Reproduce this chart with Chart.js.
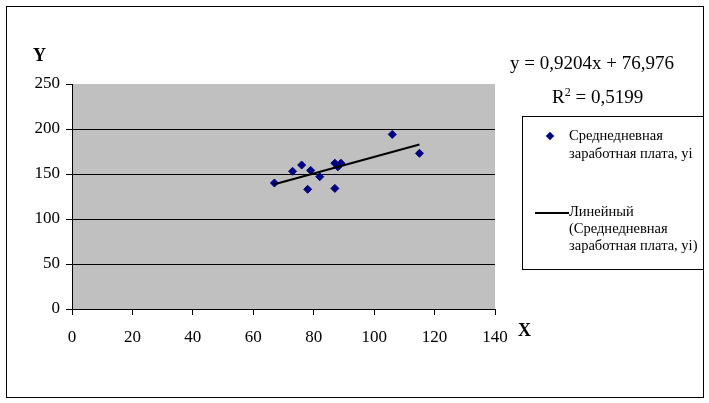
<!DOCTYPE html>
<html>

<head>
    <meta charset="utf-8">
    <title>Y от X</title>
    <style>
        body { margin: 0; background: #fff; }
        #wrap { position: relative; width: 709px; height: 403px; font-family: "Liberation Serif", "Times New Roman", serif; }
        #frame { position: absolute; left: 6px; top: 6px; width: 696px; height: 390px; border: 1px solid #000; pointer-events: none; }
        .lbl { position: absolute; color: #000; white-space: nowrap; }
        #legend { position: absolute; left: 522px; top: 116px; width: 180px; height: 152px; border: 1px solid #000; border-right: none; font-size: 14.5px; line-height: 18px; }
        .mark { position: absolute; width: 6px; height: 6px; background: #000080; transform: rotate(45deg); }
        .lline { position: absolute; height: 2px; background: #000; }
    </style>
</head>

<body>
    <div id="wrap">
        <canvas id="myChart" width="709" height="403"></canvas>
        <div id="frame"></div>
        <div class="lbl" style="left:33px;top:45px;font-size:18px;font-weight:bold;">Y</div>
        <div class="lbl" style="left:518px;top:320px;font-size:18px;font-weight:bold;">X</div>
        <div class="lbl" style="left:510px;top:52px;font-size:19px;">y = 0,9204x + 76,976</div>
        <div class="lbl" style="left:552px;top:86px;font-size:19px;">R<sup style="font-size:12px;vertical-align:7px;line-height:0">2</sup> = 0,5199</div>
        <div id="legend">
            <div class="mark" style="left:24px;top:16px;"></div>
            <div class="lbl" style="left:46px;top:9px;">Среднедневная<br>заработная плата, yi</div>
            <div class="lline" style="left:12px;top:95px;width:34px;"></div>
            <div class="lbl" style="left:46px;top:86px;line-height:17px;">Линейный<br>(Среднедневная<br>заработная плата, yi)</div>
        </div>
    </div>

    <script src="https://cdn.jsdelivr.net/npm/chart.js"></script>

    <script>
        // Среднедневная заработная плата, yi
        const xValues = [67, 73, 76, 78, 79, 82, 87, 87, 88, 89, 106, 115];
        const yValues = [140, 153, 160, 133, 154, 147, 162, 134, 158, 162, 194, 173];

        // Линейный тренд, end points as drawn
        const trendX = [67, 115];
        const trendY = [138.6, 182.8];

        const xTicks = [0, 20, 40, 60, 80, 100, 120, 140];
        const yTicks = [0, 50, 100, 150, 200, 250];

        const points = xValues.map((x, i) => ({ x: x, y: yValues[i] }));
        const trend = trendX.map((x, i) => ({ x: x, y: trendY[i] }));

        const plotBackground = {
            id: 'plotBackground',
            beforeDraw(chart) {
                const a = chart.chartArea;
                const ctx = chart.ctx;
                ctx.save();
                ctx.fillStyle = '#c0c0c0';
                ctx.fillRect(a.left, a.top, a.right - a.left, a.bottom - a.top);
                ctx.restore();
            }
        };

        const tickFont = { family: '"Liberation Serif", "Times New Roman", serif', size: 17 };

        const config = {
            type: 'scatter',
            data: {
                datasets: [
                    {
                        label: 'Среднедневная заработная плата, yi',
                        data: points,
                        pointStyle: 'rectRot',
                        pointRadius: 4,
                        backgroundColor: '#000080',
                        borderColor: '#000080',
                        borderWidth: 1,
                        order: 2
                    },
                    {
                        type: 'line',
                        label: 'Линейный (Среднедневная заработная плата, yi)',
                        data: trend,
                        borderColor: '#000',
                        borderWidth: 2,
                        pointRadius: 0,
                        fill: false,
                        order: 1
                    }
                ]
            },
            options: {
                responsive: false,
                animation: false,
                layout: { padding: { left: 0, top: 84, right: 214, bottom: 44 } },
                plugins: {
                    legend: { display: false },
                    tooltip: { enabled: false }
                },
                scales: {
                    x: {
                        type: 'linear',
                        min: 0,
                        max: 140,
                        afterBuildTicks: (s) => { s.ticks = xTicks.map(v => ({ value: v })); },
                        afterFit: (s) => { s.height = 50; },
                        border: { color: '#000', width: 1 },
                        grid: { drawOnChartArea: false, tickColor: '#000', tickLength: 6 },
                        ticks: { color: '#000', font: tickFont, padding: 12, maxRotation: 0 }
                    },
                    y: {
                        type: 'linear',
                        min: 0,
                        max: 250,
                        afterBuildTicks: (s) => { s.ticks = yTicks.map(v => ({ value: v })); },
                        afterFit: (s) => { s.width = 72; },
                        border: { color: '#000', width: 1 },
                        grid: {
                            color: (c) => (c.tick && c.tick.value === 250 ? 'rgba(0,0,0,0)' : '#000'),
                            tickColor: '#000',
                            tickLength: 6
                        },
                        ticks: { color: '#000', font: tickFont, padding: 6 }
                    }
                }
            },
            plugins: [plotBackground]
        };

        new Chart(document.getElementById('myChart'), config);
    </script>

</body>

</html>
